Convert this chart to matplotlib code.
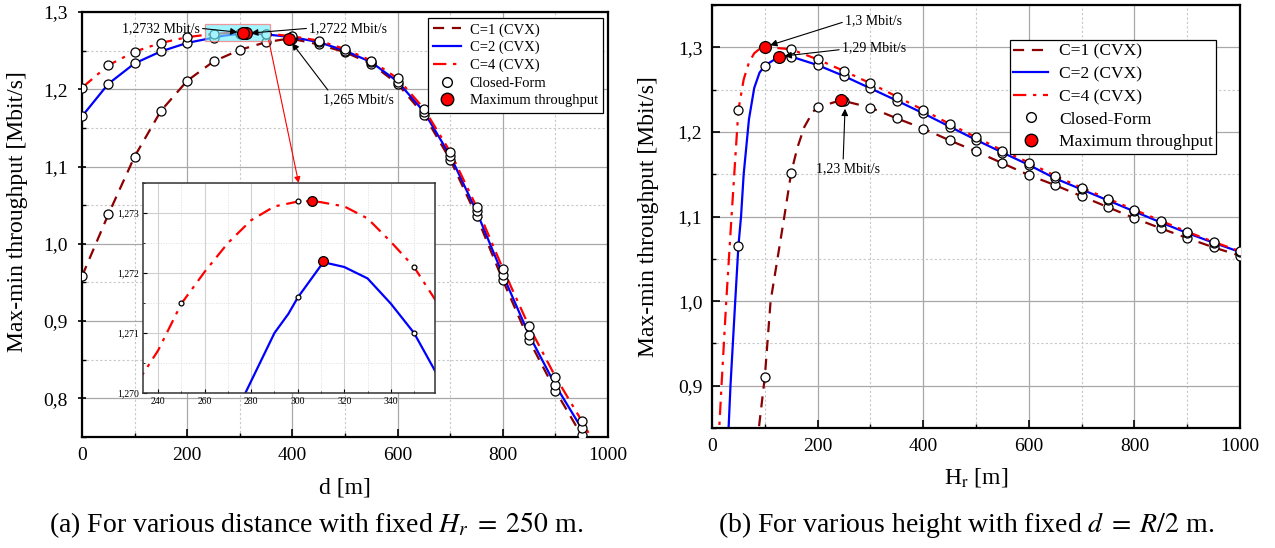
import numpy as np
import matplotlib
matplotlib.use("Agg")
import matplotlib.pyplot as plt
from matplotlib.ticker import MultipleLocator, FuncFormatter
from matplotlib.patches import Rectangle, ConnectionPatch
from matplotlib.lines import Line2D

plt.rcParams['font.family'] = ['Liberation Serif', 'DejaVu Serif']
plt.rcParams['mathtext.fontset'] = 'stix'

# ---------- (a) throughput vs distance d, H_r = 250 m ----------
d_c1 = [0, 50, 100, 150, 200, 250, 300, 350, 393, 400, 450, 500, 550, 600, 650, 700, 750, 800, 850, 900, 950, 1000]
thr_c1 = [0.958, 1.038, 1.113, 1.172, 1.211, 1.236, 1.251, 1.261, 1.2655, 1.2652, 1.258, 1.248, 1.233, 1.207,
          1.167, 1.109, 1.036, 0.953, 0.875, 0.810, 0.752, 0.69]

d_c2 = [0, 50, 100, 150, 200, 250, 270, 280, 290, 296, 300, 311, 320, 330, 340, 350, 360, 400, 450, 500,
        550, 600, 650, 700, 750, 800, 850, 900, 950, 1000]
thr_c2 = [1.165, 1.207, 1.2335, 1.249, 1.260, 1.2668, 1.2694, 1.2702, 1.2710, 1.27132, 1.27159, 1.27218,
          1.2721, 1.27191, 1.27149, 1.2710, 1.2703, 1.2675, 1.261, 1.250, 1.235, 1.210, 1.171, 1.114, 1.042,
          0.960, 0.882, 0.817, 0.761, 0.70]

d_c4 = [0, 50, 100, 150, 200, 233, 240, 250, 260, 270, 280, 290, 300, 306, 310, 320, 330, 340, 350, 360,
        400, 450, 500, 550, 600, 650, 700, 750, 800, 850, 900, 950, 1000]
thr_c4 = [1.202, 1.231, 1.2487, 1.260, 1.2674, 1.27029, 1.27071, 1.27149, 1.27202, 1.2725, 1.27288, 1.27311,
          1.27319, 1.27320, 1.27318, 1.27311, 1.27291, 1.27252, 1.2721, 1.2715, 1.2685, 1.263, 1.252, 1.237,
          1.214, 1.175, 1.119, 1.048, 0.968, 0.893, 0.828, 0.771, 0.71]

d_cf = [0, 50, 100, 150, 200, 250, 300, 350, 400, 450, 500, 550, 600, 650, 700, 750, 800, 850, 900, 950]
cf_c1 = [0.958, 1.038, 1.113, 1.172, 1.211, 1.236, 1.251, 1.261, 1.265, 1.258, 1.248, 1.233, 1.207, 1.167,
         1.109, 1.036, 0.953, 0.875, 0.810, 0.752]
cf_c2 = [1.165, 1.207, 1.2335, 1.249, 1.260, 1.2668, 1.2716, 1.2710, 1.2675, 1.261, 1.250, 1.235, 1.210,
         1.171, 1.114, 1.042, 0.960, 0.882, 0.817, 0.761]
cf_c4 = [1.202, 1.231, 1.2487, 1.260, 1.2674, 1.2715, 1.2732, 1.2721, 1.2685, 1.263, 1.252, 1.237, 1.214,
         1.175, 1.119, 1.048, 0.968, 0.893, 0.828, 0.771]

max_d = [393, 311, 306]
max_thr_a = [1.2655, 1.2722, 1.2732]

# ---------- (b) throughput vs height H_r, d = R/2 ----------
h_c1 = [85, 100, 111, 137, 150, 162, 175, 191, 200, 244, 300, 350, 400, 450, 500, 550, 600, 650, 700, 750,
        800, 850, 900, 950, 1000]
thh_c1 = [0.83, 0.91, 1.00, 1.10, 1.152, 1.182, 1.206, 1.2237, 1.229, 1.2375, 1.2287, 1.216, 1.204, 1.190,
          1.177, 1.163, 1.149, 1.137, 1.124, 1.111, 1.098, 1.086, 1.0745, 1.0635, 1.0537]

h_c2 = [30, 35, 44, 50, 55, 60, 70, 80, 90, 100, 127, 150, 200, 250, 300, 350, 400, 450, 500, 550, 600,
        650, 700, 750, 800, 850, 900, 950, 1000]
thh_c2 = [0.83, 0.90, 1.00, 1.065, 1.10, 1.15, 1.215, 1.252, 1.270, 1.2783, 1.289, 1.289, 1.279, 1.266,
          1.2515, 1.237, 1.222, 1.2063, 1.1906, 1.1756, 1.161, 1.145, 1.132, 1.119, 1.106, 1.093, 1.0805,
          1.069, 1.058]

h_c4 = [12, 18, 27, 37, 50, 60, 70, 80, 90, 100, 150, 200, 250, 300, 350, 400, 450, 500, 550, 600, 650,
        700, 750, 800, 850, 900, 950, 1000]
thh_c4 = [0.83, 0.90, 1.00, 1.10, 1.226, 1.262, 1.282, 1.293, 1.298, 1.3005, 1.2976, 1.2857, 1.272, 1.2575,
          1.2417, 1.226, 1.2094, 1.1937, 1.178, 1.1638, 1.148, 1.134, 1.121, 1.108, 1.095, 1.082, 1.070, 1.059]

h_cf = [50, 100, 150, 200, 250, 300, 350, 400, 450, 500, 550, 600, 650, 700, 750, 800, 850, 900, 950, 1000]
cfh_c1 = [np.nan, 0.91, 1.152, 1.229, 1.236, 1.2287, 1.216, 1.204, 1.190, 1.177, 1.163, 1.149, 1.137, 1.124,
          1.111, 1.098, 1.086, 1.0745, 1.0635, 1.0537]
cfh_c2 = [1.065, 1.2783, 1.289, 1.279, 1.266, 1.2515, 1.237, 1.222, 1.2063, 1.1906, 1.1756, 1.161, 1.145,
          1.132, 1.119, 1.106, 1.093, 1.0805, 1.069, 1.058]
cfh_c4 = [1.226, 1.3005, 1.2976, 1.2857, 1.272, 1.2575, 1.2417, 1.226, 1.2094, 1.1937, 1.178, 1.1638, 1.148,
          1.134, 1.121, 1.108, 1.095, 1.082, 1.070, 1.059]

max_h = [244, 127, 100]
max_thr_b = [1.2375, 1.289, 1.3005]

C1_COL = '#8b0000'
C2_COL = '#0000ff'
C4_COL = '#ff0000'
DASH = (0, (5, 3.5))
DASHDOT = (0, (6, 3, 1.5, 3))


def comma(fmt):
    return FuncFormatter(lambda v, p: (fmt % v).replace('.', ','))


def style_axes(ax, ylim, ystep, ytick_dir='in'):
    ax.set_xlim(0, 1000)
    ax.set_ylim(*ylim)
    ax.xaxis.set_major_locator(MultipleLocator(200))
    ax.xaxis.set_minor_locator(MultipleLocator(100))
    ax.yaxis.set_major_locator(MultipleLocator(ystep))
    ax.yaxis.set_minor_locator(MultipleLocator(ystep / 2))
    ax.yaxis.set_major_formatter(comma('%.1f'))
    ax.grid(which='major', color='#a8a8a8', lw=0.9, ls='-')
    ax.grid(which='minor', color='#c8c8c8', lw=0.8, ls=(0, (2, 2)))
    ax.set_axisbelow(True)
    ax.tick_params(which='both', direction='in', top=False, right=False, labelsize=14, pad=7)
    ax.tick_params(which='major', length=6, width=1.2)
    ax.tick_params(which='minor', length=3, width=1.0)
    ax.tick_params(axis='y', which='major', direction=ytick_dir)
    for s in ax.spines.values():
        s.set_linewidth(1.6)
    ax.set_ylabel('Max-min throughput [Mbit/s]', fontsize=17, labelpad=6)


def draw_series(ax, xs, ys, cfx, cfs, mx, my, ms=6.5, mms=8.5):
    styles = [(C1_COL, DASH), (C2_COL, '-'), (C4_COL, DASHDOT)]
    for (x, y), (c, ls) in zip(zip(xs, ys), styles):
        ax.plot(x, y, color=c, ls=ls, lw=1.6, zorder=2)
    for y in cfs:
        ax.plot(cfx, y, 'o', ls='none', mfc='white', mec='black', mew=0.9, ms=ms, zorder=3)
    ax.plot(mx, my, 'o', ls='none', mfc='red', mec='black', mew=0.9, ms=mms, zorder=6)


def legend(ax, anchor, fs, spacing, hlen, bpad):
    handles = [
        Line2D([], [], color=C1_COL, ls=DASH, lw=1.6),
        Line2D([], [], color=C2_COL, ls='-', lw=1.6),
        Line2D([], [], color=C4_COL, ls=DASHDOT, lw=1.6),
        Line2D([], [], marker='o', ls='none', mfc='white', mec='black', ms=7),
        Line2D([], [], marker='o', ls='none', mfc='red', mec='black', ms=9),
    ]
    labels = ['C=1 (CVX)', 'C=2 (CVX)', 'C=4 (CVX)', 'Closed-Form', 'Maximum throughput']
    leg = ax.legend(handles, labels, loc='upper left', bbox_to_anchor=anchor, fontsize=fs,
                    fancybox=False, framealpha=1, edgecolor='black', borderaxespad=0,
                    handlelength=hlen, labelspacing=spacing, borderpad=bpad, handletextpad=0.6)
    leg.get_frame().set_linewidth(0.9)
    leg.set_zorder(10)


fig = plt.figure(figsize=(12.75, 5.48), dpi=100)

# ----- panel (a)
ax1 = fig.add_axes([82 / 1275, 111 / 548, 526 / 1275, 425 / 548])
style_axes(ax1, (0.75, 1.3), 0.1, ytick_dir='inout')
draw_series(ax1, [d_c1, d_c2, d_c4], [thr_c1, thr_c2, thr_c4], d_cf, [cf_c1, cf_c2, cf_c4], max_d, max_thr_a)
ax1.set_xlabel('d [m]', fontsize=17, labelpad=10)
ax1.yaxis.set_label_coords(-0.103, 0.53)
legend(ax1, (0.658, 0.986), 10.5, 0.3, 1.9, 0.35)

ax1.add_patch(Rectangle((234, 1.263), 124, 0.021, facecolor='#70f0ff', edgecolor='#ff6060',
                        lw=0.9, alpha=0.65, zorder=4))

arw = dict(arrowstyle='-|>', color='black', lw=0.8, mutation_scale=10, shrinkA=0, shrinkB=4)
ax1.annotate('1,2732 Mbit/s', xy=(max_d[2], max_thr_a[2]), xytext=(224, 1.279), fontsize=10,
             ha='right', va='center', arrowprops=dict(arw, relpos=(1, 0.5)), zorder=7)
ax1.annotate('1,2722 Mbit/s', xy=(max_d[1], max_thr_a[1]), xytext=(432, 1.279), fontsize=10,
             ha='left', va='center', arrowprops=dict(arw, relpos=(0, 0.5)), zorder=7)
ax1.annotate('1,265 Mbit/s', xy=(max_d[0], max_thr_a[0]), xytext=(458, 1.187), fontsize=10,
             ha='left', va='center', arrowprops=dict(arw, relpos=(0.1, 1)), zorder=7)

# inset
axi = fig.add_axes([143 / 1275, 155 / 548, 292 / 1275, 210 / 548])
axi.set_zorder(8)
axi.set_facecolor('white')
draw_series(axi, [d_c1, d_c2, d_c4], [thr_c1, thr_c2, thr_c4], d_cf, [cf_c1, cf_c2, cf_c4],
            max_d[1:], max_thr_a[1:], ms=3.5, mms=7)
axi.set_xlim(233.5, 359)
axi.set_ylim(1.270, 1.2735)
axi.xaxis.set_major_locator(MultipleLocator(20))
axi.xaxis.set_minor_locator(MultipleLocator(10))
axi.yaxis.set_major_locator(MultipleLocator(0.001))
axi.yaxis.set_minor_locator(MultipleLocator(0.0005))
axi.yaxis.set_major_formatter(comma('%.3f'))
axi.grid(which='major', color='#d0d0d0', lw=0.8)
axi.grid(which='minor', color='#e0e0e0', lw=0.6, ls=(0, (1.5, 1.5)))
axi.set_axisbelow(True)
axi.tick_params(which='both', direction='in', labelsize=7, pad=3, top=False, right=False)
axi.tick_params(which='major', length=3)
axi.tick_params(which='minor', length=1.5)
for s in axi.spines.values():
    s.set_linewidth(1.1)
    s.set_color('#333333')

con = ConnectionPatch(xyA=(355, 1.2635), coordsA=ax1.transData, xyB=(0.533, 1.0), coordsB=axi.transAxes,
                      arrowstyle='-|>', color='red', lw=0.8, mutation_scale=9, zorder=9)
fig.add_artist(con)

# ----- panel (b)
ax2 = fig.add_axes([712 / 1275, 120 / 548, 528 / 1275, 423 / 548])
style_axes(ax2, (0.85, 1.35), 0.1)
draw_series(ax2, [h_c1, h_c2, h_c4], [thh_c1, thh_c2, thh_c4], h_cf, [cfh_c1, cfh_c2, cfh_c4], max_h, max_thr_b)
ax2.set_xlabel(r'H$_{\rm r}$ [m]', fontsize=17, labelpad=8)
ax2.yaxis.set_label_coords(-0.1, 0.5)
legend(ax2, (0.564, 0.917), 12.6, 0.36, 2.0, 0.2)

ax2.annotate('1,3 Mbit/s', xy=(max_h[2], max_thr_b[2]), xytext=(252, 1.332), fontsize=10,
             ha='left', va='center', arrowprops=dict(arw, relpos=(0, 0.4)), zorder=7)
ax2.annotate('1,29 Mbit/s', xy=(max_h[1], max_thr_b[1]), xytext=(246, 1.299), fontsize=10,
             ha='left', va='center', arrowprops=dict(arw, relpos=(0, 0.4)), zorder=7)
ax2.annotate('1,23 Mbit/s', xy=(252, 1.229), xytext=(258, 1.157), fontsize=10,
             ha='center', va='center', arrowprops=dict(arw, relpos=(0.42, 1), shrinkB=1), zorder=7)

fig.text(316 / 1275, 1 - 525 / 548, r'(a) For various distance with fixed $H_r\;=\;250$ m.',
         fontsize=20, ha='center', va='center')
fig.text(966 / 1275, 1 - 525 / 548, r'(b) For various height with fixed $d\;=\;R/2$ m.',
         fontsize=20, ha='center', va='center')

fig.savefig('out.png', dpi=100)
